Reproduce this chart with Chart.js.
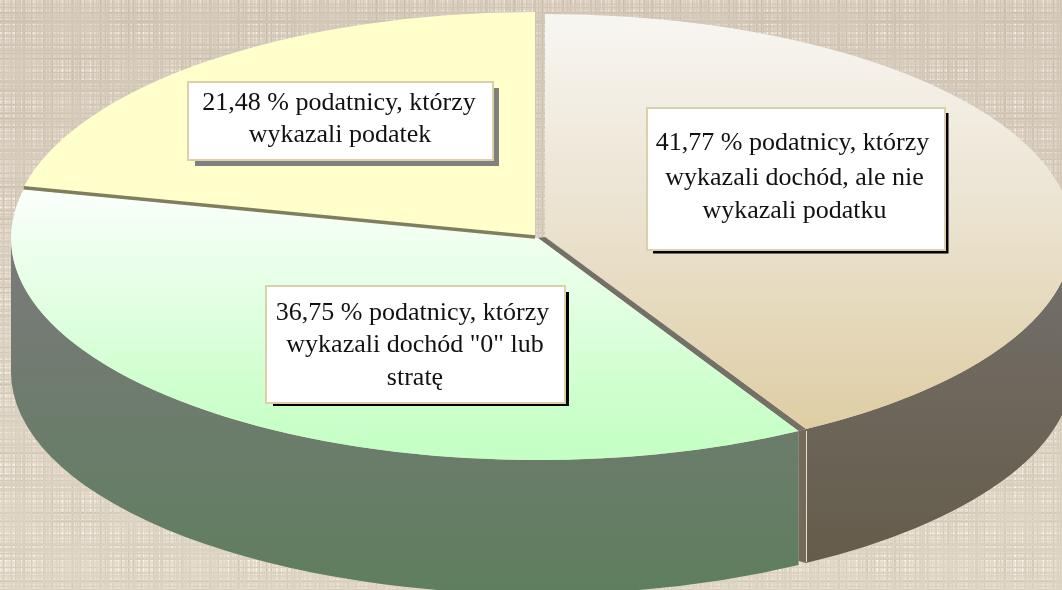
<!DOCTYPE html>
<html lang="pl">
<head>
<meta charset="utf-8">
<title>Podatnicy</title>
<script src="https://cdn.jsdelivr.net/npm/chart.js@4"></script>
<style>
html,body{margin:0;padding:0;background:#ded3c1;}
canvas{display:block;}
</style>
</head>
<body>
<canvas id="c" width="1062" height="590"></canvas>
<script>
const categories = ['podatnicy, którzy wykazali dochód, ale nie wykazali podatku',
                    'podatnicy, którzy wykazali dochód "0" lub stratę',
                    'podatnicy, którzy wykazali podatek'];
const shares = [41.77, 36.75, 21.48];
const tagLines = [
  ['41,77 % podatnicy, którzy', 'wykazali dochód, ale nie', 'wykazali podatku'],
  ['36,75 % podatnicy, którzy', 'wykazali dochód "0" lub', 'stratę'],
  ['21,48 % podatnicy, którzy', 'wykazali podatek']
];

/* layout and styling */
const faces = [
  {cx:545, cy:236, rx:528, ry:222},
  {cx:538, cy:238, rx:527, ry:222},
  {cx:535, cy:236, rx:524, ry:224}
];
const DEPTH = 134;
const faceStops = [
  [[14,'#f8f6f2'],[200,'#ece4d3'],[430,'#dfcea4']],
  [[186,'#fcfffc'],[400,'#ccffcc'],[460,'#c4ffc4']],
  [[12,'#ffffcc'],[236,'#ffffcc']]
];
const tagBoxes = [
  {x:647, y:108, w:298, h:142, shadow:'#000000', sh:[653,113,948.5,253.5], base:[150,185,218], tx:[792.5,794.5,794.5]},
  {x:266, y:286, w:299, h:117, shadow:'#000000', sh:[273,292,569,406],     base:[320,352,385], tx:[412.5,415,415]},
  {x:188, y:82,  w:305, h:78,  shadow:'#808080', sh:[195,88,499,166],      base:[110,142],     tx:[339,340]}
];

function localY(chart, f, screenY){
  const a = chart.chartArea, R = Math.min(a.right-a.left, a.bottom-a.top)/2;
  return (a.top+a.bottom)/2 + (screenY-f.cy)*R/f.ry;
}
function faceFill(ctx){
  const i = ctx.dataIndex, chart = ctx.chart, stops = faceStops[i], f = faces[i];
  if(!chart.chartArea) return stops[0][1];
  const y0 = stops[0][0], y1 = stops[stops.length-1][0];
  const g = chart.ctx.createLinearGradient(0, localY(chart,f,y0), 0, localY(chart,f,y1));
  stops.forEach(s => g.addColorStop((s[0]-y0)/(y1-y0), s[1]));
  return g;
}
function wall(ctx, f, a0, a1, colors){
  const g = ctx.createLinearGradient(0, colors[0][0], 0, colors[1][0]);
  g.addColorStop(0, colors[0][1]); g.addColorStop(1, colors[1][1]);
  ctx.fillStyle = g;
  ctx.beginPath();
  ctx.ellipse(f.cx, f.cy, f.rx, f.ry, 0, a0, a1);
  ctx.ellipse(f.cx, f.cy+DEPTH, f.rx, f.ry, 0, a1, a0, true);
  ctx.closePath();
  ctx.fill();
}
const pt = (f, a) => [f.cx + f.rx*Math.cos(a), f.cy + f.ry*Math.sin(a)];
function poly(ctx, pts, color){
  ctx.fillStyle = color;
  ctx.beginPath();
  pts.forEach((p,i) => i ? ctx.lineTo(p[0],p[1]) : ctx.moveTo(p[0],p[1]));
  ctx.closePath();
  ctx.fill();
}
function drawCloth(ctx){
  const W = 1062, H = 590, img = ctx.createImageData(W,H), d = img.data;
  for(let y=0;y<H;y++){
    const row = Math.sin(1.37*y+.5)+.8*Math.sin(2.31*y+2)+.7*Math.sin(.83*y)+.5*Math.sin(.19*y+1);
    const t = y/H;
    for(let x=0;x<W;x++){
      const col = Math.sin(1.55*x)+.8*Math.sin(2.73*x+1)+.7*Math.sin(.91*x+2)+.5*Math.sin(.23*x);
      const m = .8+.3*Math.sin(x*.05+1)*Math.sin(y*.07);
      const v = (5*(col+row)+4*col*row)*m;
      const k = (y*W+x)*4;
      d[k]   = 214+10*t+v;
      d[k+1] = 202+13*t+v;
      d[k+2] = 187+12*t+v*1.1;
      d[k+3] = 255;
    }
  }
  ctx.putImageData(img,0,0);
}

const pie3d = {
  id:'pie3d',
  beforeDatasetsDraw(chart){
    const ctx = chart.ctx, arcs = chart.getDatasetMeta(0).data;
    drawCloth(ctx);
    const aTan = arcs[0].endAngle, aLine = arcs[1].endAngle;
    /* side walls */
    wall(ctx, faces[1], aTan, Math.PI, [[250,'#7a7a7a'],[590,'#5f7e5f']]);
    wall(ctx, faces[0], 0, aTan, [[280,'#726e68'],[565,'#655c4a']]);
    const tc = pt(faces[0], aTan), gc = pt(faces[1], aTan);
    /* cut faces exposed by the pulled-out slice */
    poly(ctx, [[faces[0].cx,faces[0].cy+1], tc, gc, [faces[1].cx,faces[1].cy]], '#737068');
    poly(ctx, [tc, gc, [gc[0],gc[1]+DEPTH-4], [tc[0],tc[1]+DEPTH]], '#736a5a');
    ctx.fillStyle = '#e6dece';
    ctx.fillRect(Math.round(tc[0]), tc[1]+2, 1, DEPTH-3);
    /* top faces */
    arcs.forEach((arc,i) => {
      const f = faces[i];
      const a = chart.chartArea, R = Math.min(a.right-a.left, a.bottom-a.top)/2;
      ctx.save();
      ctx.translate(f.cx, f.cy);
      ctx.scale(f.rx/R, f.ry/R);
      ctx.translate(-(a.left+a.right)/2, -(a.top+a.bottom)/2);
      arc.draw(ctx, a);
      ctx.restore();
    });
    /* seam between green and yellow */
    const e = pt(faces[2], aLine);
    ctx.strokeStyle = '#7f7f5f';
    ctx.lineWidth = 3.5;
    ctx.beginPath();
    ctx.moveTo(faces[2].cx, faces[2].cy+1);
    ctx.lineTo(e[0], e[1]+1);
    ctx.stroke();
    /* label boxes */
    tagBoxes.forEach((b,i) => {
      ctx.fillStyle = b.shadow;
      ctx.fillRect(b.sh[0], b.sh[1], b.sh[2]-b.sh[0], b.sh[3]-b.sh[1]);
      ctx.fillStyle = '#ffffff';
      ctx.strokeStyle = '#ddd0a9';
      ctx.lineWidth = 2;
      ctx.fillRect(b.x, b.y, b.w, b.h);
      ctx.strokeRect(b.x, b.y, b.w, b.h);
      ctx.fillStyle = '#111111';
      ctx.font = '26px "Liberation Serif"';
      ctx.textAlign = 'center';
      ctx.textBaseline = 'alphabetic';
      tagLines[i].forEach((line,j) => ctx.fillText(line, b.tx[j], b.base[j]));
    });
    return false;
  }
};

new Chart(document.getElementById('c'), {
  type:'pie',
  data:{ labels:categories, datasets:[{ data:shares, backgroundColor:faceFill, borderWidth:0, hoverOffset:0 }] },
  options:{
    responsive:false, animation:false,
    layout:{padding:0},
    events:[],
    plugins:{ legend:{display:false}, tooltip:{enabled:false} }
  },
  plugins:[pie3d]
});
</script>
</body>
</html>
